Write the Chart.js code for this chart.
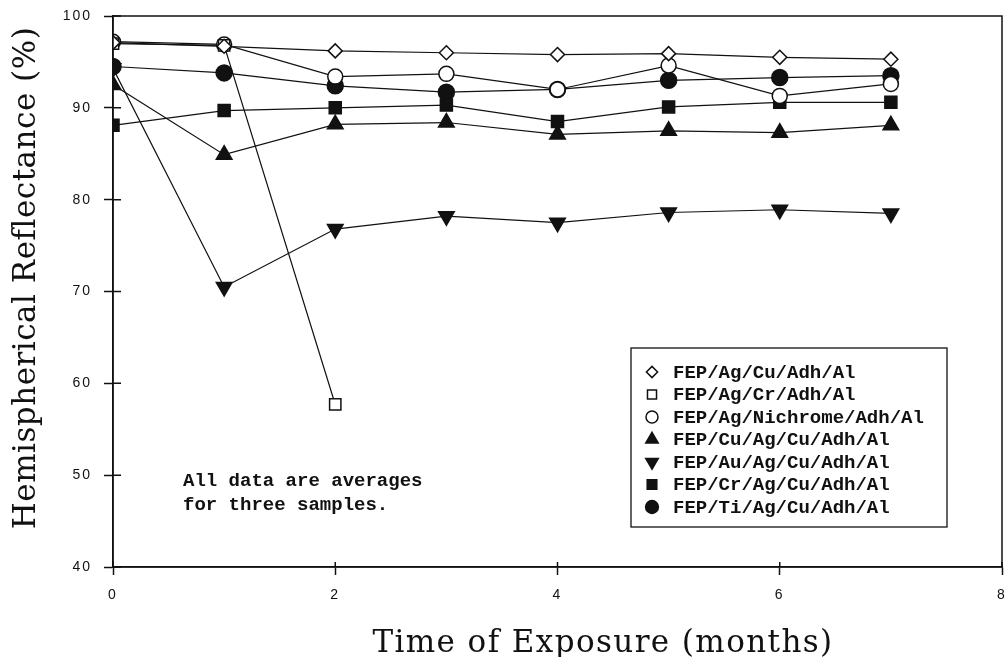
<!DOCTYPE html>
<html>
<head>
<meta charset="utf-8">
<script src="https://cdn.jsdelivr.net/npm/chart.js@4.4.0/dist/chart.umd.min.js"></script>
<style>
html,body{margin:0;padding:0;background:#fff;overflow:hidden;}
canvas{display:block;}
</style>
</head>
<body>
<canvas id="c" width="1006" height="657"></canvas>
<script>
// months of exposure
var months = [0, 1, 2, 3, 4, 5, 6, 7];

// reflectance (%) per coating
var agCu       = [97.1, 96.7, 96.2, 96.0, 95.8, 95.9, 95.5, 95.3];
var agCr       = [97.0, 96.8, 57.7];
var agNichrome = [97.2, 96.9, 93.4, 93.7, 92.0, 94.6, 91.3, 92.6];
var cuAgCu     = [92.5, 84.9, 88.2, 88.4, 87.1, 87.5, 87.3, 88.1];
var auAgCu     = [94.3, 70.5, 76.8, 78.2, 77.5, 78.6, 78.9, 78.5];
var crAgCu     = [88.1, 89.7, 90.0, 90.3, 88.5, 90.1, 90.6, 90.6];
var tiAgCu     = [94.5, 93.8, 92.4, 91.7, 92.0, 93.0, 93.3, 93.5];

var names = ['FEP/Ag/Cu/Adh/Al', 'FEP/Ag/Cr/Adh/Al', 'FEP/Ag/Nichrome/Adh/Al',
  'FEP/Cu/Ag/Cu/Adh/Al', 'FEP/Au/Ag/Cu/Adh/Al', 'FEP/Cr/Ag/Cu/Adh/Al', 'FEP/Ti/Ag/Cu/Adh/Al'];

var xTicks = [0, 2, 4, 6, 8];
var yTicks = [40, 50, 60, 70, 80, 90, 100];
var xTitle = 'Time of Exposure (months)';
var yTitle = 'Hemispherical Reflectance (%)';
var note = ['All data are averages', 'for three samples.'];

function pts(arr) {
  return arr.map(function (v, i) { return { x: months[i], y: v }; });
}

function series(label, arr, style, radius, fill, rot) {
  return {
    label: label,
    data: pts(arr),
    borderColor: '#111',
    borderWidth: 1.2,
    tension: 0,
    pointStyle: style,
    pointRadius: radius,
    pointRotation: rot || 0,
    pointBackgroundColor: fill,
    pointBorderColor: '#111',
    pointBorderWidth: 1.5
  };
}

var sets = [
  series(names[0], agCu, 'rectRot', 7, '#fff'),
  series(names[1], agCr, 'rect', 8, '#fff'),
  series(names[2], agNichrome, 'circle', 7.5, '#fff'),
  series(names[3], cuAgCu, 'triangle', 9, '#111'),
  series(names[4], auAgCu, 'triangle', 9, '#111', 180),
  series(names[5], crAgCu, 'rect', 8.5, '#111'),
  series(names[6], tiAgCu, 'circle', 8, '#111')
];

// no extra room for edge labels, the box sits where the original does
function noPad(s) {
  s.paddingLeft = 0; s.paddingRight = 0; s.paddingTop = 0; s.paddingBottom = 0;
}

var extras = {
  id: 'extras',
  beforeDraw: function (chart) {
    chart.ctx.letterSpacing = '2px';   // wide tick digits
  },
  beforeDatasetsDraw: function (chart) {
    chart.ctx.letterSpacing = '0px';
  },
  afterDraw: function (chart) {
    var ctx = chart.ctx, a = chart.chartArea;
    var xs = chart.scales.x, ys = chart.scales.y;
    ctx.save();
    ctx.strokeStyle = '#111';
    ctx.lineWidth = 1.5;
    ctx.strokeRect(a.left, a.top, a.right - a.left, a.bottom - a.top);

    // inner half of tick marks
    ctx.beginPath();
    xTicks.forEach(function (v) {
      var px = xs.getPixelForValue(v);
      ctx.moveTo(px, a.bottom); ctx.lineTo(px, a.bottom - 5);
    });
    yTicks.forEach(function (v) {
      var py = ys.getPixelForValue(v);
      ctx.moveTo(a.left, py); ctx.lineTo(a.left + 8, py);
    });
    ctx.stroke();

    // axis titles
    ctx.fillStyle = '#111';
    ctx.textAlign = 'center';
    ctx.textBaseline = 'alphabetic';
    ctx.font = '31px "DejaVu Serif"';
    ctx.letterSpacing = '1.4px';
    ctx.fillText(xTitle, 603, 652);
    ctx.save();
    ctx.translate(35, 278);
    ctx.rotate(-Math.PI / 2);
    ctx.letterSpacing = '0.5px';
    ctx.fillText(yTitle, 0, 0);
    ctx.restore();
    ctx.letterSpacing = '0px';

    // note
    ctx.textAlign = 'left';
    ctx.textBaseline = 'middle';
    ctx.font = 'bold 19px "Liberation Mono"';
    ctx.fillText(note[0], 183, 481);
    ctx.fillText(note[1], 183, 505);

    // legend box
    ctx.lineWidth = 1.3;
    ctx.strokeRect(631, 348, 316, 179);
    sets.forEach(function (ds, i) {
      var y = 372 + i * 22.5;
      ctx.fillStyle = ds.pointBackgroundColor;
      ctx.strokeStyle = '#111';
      ctx.lineWidth = 1.5;
      var r = ds.pointRadius * 0.8;
      if (Chart.helpers && Chart.helpers.drawPoint) {
        Chart.helpers.drawPoint(ctx, { pointStyle: ds.pointStyle, radius: r, rotation: ds.pointRotation, borderWidth: 1.5 }, 652, y);
      }
      ctx.fillStyle = '#111';
      ctx.fillText(ds.label, 673, y + 1);
    });
    ctx.restore();
  }
};

new Chart(document.getElementById('c'), {
  type: 'line',
  data: { datasets: sets },
  options: {
    responsive: false,
    animation: false,
    layout: { padding: { left: 0, right: 4, top: 16, bottom: 0 }, autoPadding: false },
    plugins: { legend: { display: false }, tooltip: { enabled: false } },
    scales: {
      x: {
        type: 'linear', min: 0, max: 8,
        afterFit: function (s) { s.height = 90; noPad(s); },
        afterBuildTicks: function (s) { s.ticks = xTicks.map(function (v) { return { value: v }; }); },
        grid: { drawOnChartArea: false, tickLength: 8, color: '#111', tickWidth: 1.5 },
        border: { color: '#111', width: 1.5 },
        ticks: { color: '#111', font: { family: 'Liberation Sans', size: 14 }, padding: 12, maxRotation: 0 }
      },
      y: {
        min: 40, max: 100,
        afterFit: function (s) { s.width = 113; noPad(s); },
        afterBuildTicks: function (s) { s.ticks = yTicks.map(function (v) { return { value: v }; }); },
        grid: { drawOnChartArea: false, tickLength: 9, color: '#111', tickWidth: 1.5 },
        border: { color: '#111', width: 1.5 },
        ticks: { color: '#111', font: { family: 'Liberation Sans', size: 14 }, padding: 12 }
      }
    }
  },
  plugins: [extras]
});
</script>
</body>
</html>
